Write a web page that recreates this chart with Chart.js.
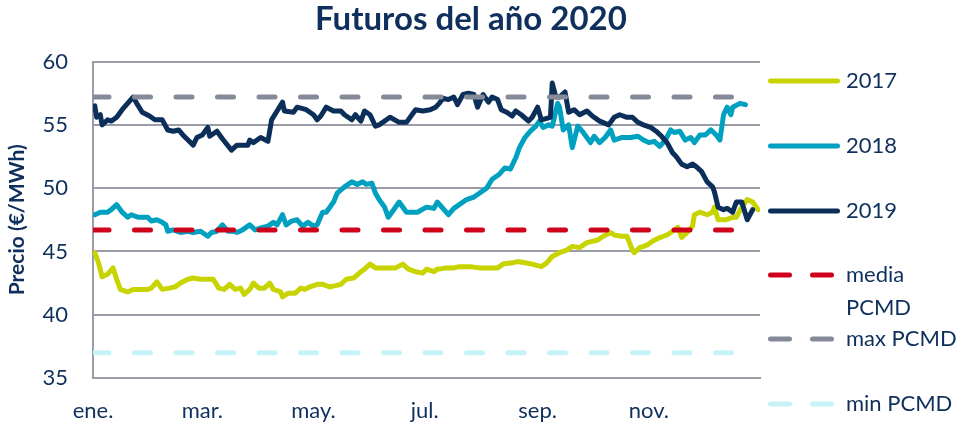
<!DOCTYPE html>
<html><head><meta charset="utf-8">
<script src="https://cdn.jsdelivr.net/npm/chart.js@4.4.1/dist/chart.umd.min.js"></script>
<style>html,body{margin:0;padding:0;background:#fff;overflow:hidden}#wrap{width:964px;height:427px}</style>
</head><body><div id="wrap"><canvas id="c" width="964" height="427"></canvas></div>
<script>
const chartTitle = 'Futuros del año 2020';
const yAxisTitle = 'Precio (€/MWh)';
const monthTickDays = [0, 60, 121, 182, 244, 305];
const monthTickLabels = ['ene.', 'mar.', 'may.', 'jul.', 'sep.', 'nov.'];
const seriesLabels = ['2017', '2018', '2019', 'media PCMD', 'max PCMD', 'min PCMD'];
const legendLines = [['2017'], ['2018'], ['2019'], ['media', 'PCMD'], ['max PCMD'], ['min PCMD']];

const days2017 = [1,3,5,8,11,13,15,19,22,26,30,32,35,38,42,45,48,52,55,59,63,66,69,72,75,78,81,83,86,88,91,94,97,99,103,104,107,111,114,116,119,123,126,130,136,139,143,147,149,152,155,159,162,166,170,173,177,181,183,187,189,194,198,201,207,212,218,222,225,230,233,237,241,246,249,252,256,260,263,267,271,274,277,280,284,286,290,293,296,297,300,304,307,311,315,318,321,323,326,329,330,333,337,340,341,343,347,351,353,356,359,362,365];
const values2017 = [44.9,44.1,43.0,43.2,43.7,42.8,42.0,41.8,42.0,42.0,42.0,42.1,42.6,42.0,42.1,42.2,42.5,42.8,42.9,42.8,42.8,42.8,42.1,42.0,42.4,42.0,42.1,41.6,42.0,42.5,42.1,42.1,42.5,42.0,41.8,41.4,41.7,41.7,42.1,42.0,42.2,42.4,42.4,42.2,42.4,42.8,42.9,43.4,43.6,44.0,43.7,43.7,43.7,43.7,44.0,43.6,43.4,43.3,43.6,43.4,43.6,43.7,43.7,43.8,43.8,43.7,43.7,43.7,44.0,44.1,44.2,44.1,44.0,43.8,44.1,44.6,44.9,45.1,45.4,45.3,45.7,45.8,45.9,46.2,46.5,46.3,46.2,46.2,45.1,44.9,45.3,45.5,45.8,46.1,46.3,46.6,46.9,46.1,46.5,47.0,47.9,48.1,47.9,48.1,48.5,47.5,47.5,47.7,47.7,48.5,49.1,48.9,48.3];

const days2018 = [1,4,8,10,13,16,19,21,25,30,32,35,38,40,41,44,48,52,55,59,63,65,68,71,74,77,79,82,86,89,93,96,99,101,104,106,109,112,115,118,121,123,126,128,132,134,138,142,145,148,150,153,155,157,160,162,165,168,172,178,183,187,189,192,195,198,201,205,209,212,216,219,223,226,229,232,234,237,240,243,245,247,250,252,255,256,258,261,263,266,269,273,275,278,281,284,286,290,295,299,302,305,308,311,314,317,319,322,325,328,330,333,336,339,342,344,346,348,350,351,355,358];
const values2018 = [47.9,48.1,48.1,48.3,48.7,48.1,47.7,47.9,47.7,47.7,47.4,47.5,47.3,47.1,46.6,46.7,46.5,46.6,46.5,46.6,46.2,46.5,46.6,47.1,46.6,46.6,46.5,46.7,47.1,46.7,46.9,47.0,47.3,47.1,47.9,47.1,47.4,47.5,47.0,47.3,47.0,47.1,48.1,48.1,48.9,49.6,50.1,50.5,50.3,50.5,50.3,50.4,49.6,49.1,48.5,47.7,48.3,48.9,48.1,48.1,48.5,48.4,48.9,48.4,47.9,48.4,48.7,49.1,49.3,49.6,50.0,50.7,51.1,51.6,51.5,52.4,53.2,54.0,54.5,54.9,55.3,54.8,55.0,54.9,56.7,56.4,54.6,55.0,53.2,54.9,54.4,53.6,54.1,53.6,54.0,54.6,53.8,54.0,54.0,54.1,53.8,53.6,53.7,53.3,53.8,54.6,54.4,54.5,53.8,54.0,53.6,54.2,54.2,54.6,54.2,53.8,55.8,56.4,55.8,56.4,56.7,56.6];

const days2019 = [1,2,4,5,8,10,13,16,19,22,24,27,31,34,38,41,44,47,50,55,57,60,63,64,68,71,76,79,85,86,88,92,96,98,101,104,105,110,112,117,121,123,125,128,132,136,138,142,144,147,149,152,155,157,163,168,172,177,181,185,188,190,192,195,198,200,203,206,209,211,214,217,219,222,224,227,230,232,235,239,241,244,246,251,252,254,256,259,261,264,267,271,274,278,283,286,289,293,296,299,302,306,309,312,315,318,320,323,326,329,331,334,337,340,341,343,346,348,351,353,356,359,362];
const values2019 = [56.5,55.6,55.8,55.0,55.4,55.3,55.6,56.2,56.7,57.2,56.7,56.0,55.7,55.4,55.4,54.6,54.5,54.6,54.1,53.4,54.0,54.2,54.8,54.1,54.5,53.9,53.0,53.4,53.4,53.8,53.6,54.0,53.7,55.4,56.1,56.8,56.1,56.0,56.4,56.2,55.8,55.4,55.7,56.4,56.1,56.1,55.8,55.4,55.8,55.3,56.1,55.8,54.9,55.0,55.6,55.2,55.2,56.2,56.1,56.2,56.4,56.7,57.1,57.0,57.2,56.6,57.4,57.5,57.4,56.4,57.4,56.8,57.2,57.0,56.2,56.0,55.7,56.1,55.8,55.3,55.6,56.4,55.4,55.6,58.3,57.2,57.2,57.6,56.0,56.2,55.8,56.1,55.7,55.3,55.0,55.6,55.8,55.6,55.6,55.2,55.0,54.8,54.5,54.1,53.6,52.8,52.5,51.9,51.7,51.9,51.7,51.3,50.5,50.1,49.7,48.5,48.3,48.4,48.1,48.9,48.9,47.5,48.3];

const refDays = [0, 358];
const mediaPCMD = [46.7, 46.7];
const maxPCMD = [57.2, 57.2];
const minPCMD = [37.0, 37.0];

const colors = ['#c8d400', '#00a0c0', '#0c2f5a', '#d0021b', '#858a98', '#c6f3f8'];
const textColor = '#0f2f5c';
const gridColor = '#9a9da8';
const FONT = 'Lato, "Open Sans", sans-serif';

const pts = (xs, ys) => xs.map((x, i) => ({x: x, y: ys[i]}));
const solid = (i, xs, ys, order) => ({label: seriesLabels[i], data: pts(xs, ys), borderColor: colors[i], backgroundColor: colors[i], borderWidth: 5, pointRadius: 0, tension: 0, borderJoinStyle: 'round', borderCapStyle: 'round', order: order});
const dashed = (i, ys, order) => ({label: seriesLabels[i], data: pts(refDays, ys), borderColor: colors[i], backgroundColor: colors[i], borderWidth: 5, pointRadius: 0, borderDash: [16, 25.5], borderCapStyle: 'round', order: order});

const legendPlugin = {
  id: 'sideLegend',
  afterDraw(chart) {
    const ctx = chart.ctx;
    const ys = [81, 146, 211, 275, 339, 404];
    ctx.save();
    ctx.font = '22px ' + FONT;
    ctx.fillStyle = textColor;
    ctx.textBaseline = 'middle';
    ctx.textAlign = 'left';
    chart.data.datasets.forEach((ds, i) => {
      const y = ys[i];
      ctx.strokeStyle = ds.borderColor;
      ctx.lineWidth = 5;
      ctx.lineCap = 'round';
      ctx.beginPath();
      if (ds.borderDash) {
        ctx.moveTo(770.5, y); ctx.lineTo(789.5, y);
        ctx.moveTo(812.5, y); ctx.lineTo(831.5, y);
      } else {
        ctx.moveTo(770.5, y); ctx.lineTo(837.5, y);
      }
      ctx.stroke();
      legendLines[i].forEach((t, k) => ctx.fillText(t, 846, y + k * 33));
    });
    ctx.restore();
  }
};

new Chart(document.getElementById('c'), {
  type: 'line',
  data: {
    datasets: [
      solid(0, days2017, values2017, 6),
      solid(1, days2018, values2018, 5),
      solid(2, days2019, values2019, 4),
      dashed(3, mediaPCMD, 3),
      dashed(4, maxPCMD, 2),
      dashed(5, minPCMD, 1)
    ]
  },
  options: {
    responsive: false,
    animation: false,
    devicePixelRatio: 1,
    layout: {padding: {left: 0, right: 22, top: 0, bottom: 0}},
    plugins: {
      legend: {display: false},
      tooltip: {enabled: false},
      title: {display: true, text: chartTitle, color: textColor, font: {family: FONT, size: 33, weight: 'bold', lineHeight: 1.2}, padding: {top: 0, bottom: 22}}
    },
    scales: {
      x: {
        type: 'linear', min: 0, max: 366,
        afterBuildTicks: s => { s.ticks = monthTickDays.map(v => ({value: v})); },
        afterFit: s => { s.height = 49; },
        ticks: {autoSkip: false, maxRotation: 0, padding: 20, color: textColor, font: {family: FONT, size: 22},
          callback: v => monthTickLabels[monthTickDays.indexOf(v)]},
        grid: {display: false, drawTicks: false},
        border: {display: true, color: gridColor, width: 2}
      },
      y: {
        min: 35, max: 60,
        afterFit: s => { s.width = 93; },
        ticks: {stepSize: 5, padding: 25, color: textColor, font: {family: FONT, size: 22}},
        grid: {color: gridColor, lineWidth: 2, drawTicks: false},
        border: {display: true, color: gridColor, width: 2},
        title: {display: true, text: yAxisTitle, color: textColor, font: {family: FONT, size: 21, weight: 'bold'}, padding: {top: 5, bottom: 0}}
      },
      legendSpace: {
        type: 'linear', position: 'right', display: true, min: 0, max: 1,
        afterFit: s => { s.width = 182; },
        ticks: {display: false},
        grid: {display: false, drawTicks: false},
        border: {display: false}
      }
    }
  },
  plugins: [legendPlugin]
});
</script></body></html>
